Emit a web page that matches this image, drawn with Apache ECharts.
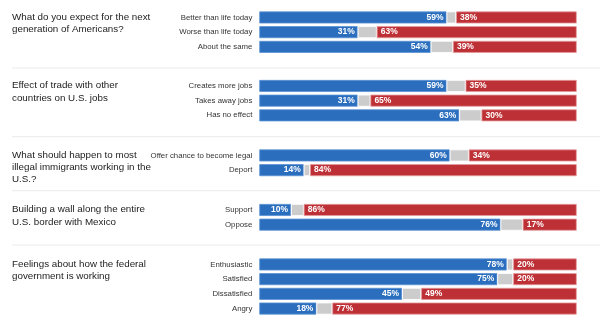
<!DOCTYPE html>
<html><head><meta charset="utf-8">
<script src="https://cdn.jsdelivr.net/npm/echarts@6/dist/echarts.min.js"></script>
<style>html,body{margin:0;padding:0;background:#fff}#c{width:600px;height:325px}</style>
</head><body><div id="c"></div>
<script>
// ---- data ----
const titles = [
  "What do you expect for the next\ngeneration of Americans?",
  "Effect of trade with other\ncountries on U.S. jobs",
  "What should happen to most\nillegal immigrants working in the\nU.S.?",
  "Building a wall along the entire\nU.S. border with Mexico",
  "Feelings about how the federal\ngovernment is working"
];
const cats1 = ["Better than life today", "Worse than life today", "About the same"];
const blue1 = [59, 31, 54];
const other1 = [3, 6, 7];
const red1 = [38, 63, 39];

const cats2 = ["Creates more jobs", "Takes away jobs", "Has no effect"];
const blue2 = [59, 31, 63];
const other2 = [6, 4, 7];
const red2 = [35, 65, 30];

const cats3 = ["Offer chance to become legal", "Deport"];
const blue3 = [60, 14];
const other3 = [6, 2];
const red3 = [34, 84];

const cats4 = ["Support", "Oppose"];
const blue4 = [10, 76];
const other4 = [4, 7];
const red4 = [86, 17];

const cats5 = ["Enthusiastic", "Satisfied", "Dissatisfied", "Angry"];
const blue5 = [78, 75, 45, 18];
const other5 = [2, 5, 6, 5];
const red5 = [20, 20, 49, 77];

// ---- layout ----
const groups = [
  {cats: cats1, blue: blue1, other: other1, red: red1, top: 10.1},
  {cats: cats2, blue: blue2, other: other2, red: red2, top: 78.6},
  {cats: cats3, blue: blue3, other: other3, red: red3, top: 148.1},
  {cats: cats4, blue: blue4, other: other4, red: red4, top: 202.6},
  {cats: cats5, blue: blue5, other: other5, red: red5, top: 257.1}
];
const PITCH = 14.7;
const separators = [68, 136.7, 190.7, 245];
const FONT = '"Liberation Sans", Arial, sans-serif';

const grids = [], xAxes = [], yAxes = [], series = [], graphics = [];
const lbl = {color: '#fff', fontSize: 8.5, fontWeight: 'bold', fontFamily: FONT, formatter: '{c}%'};
groups.forEach((g, i) => {
  grids.push({left: 259.3, width: 317.4, top: g.top, height: g.cats.length * PITCH});
  xAxes.push({gridIndex: i, type: 'value', min: 0, max: 100, show: false});
  yAxes.push({gridIndex: i, type: 'category', data: g.cats, inverse: true,
    axisLine: {show: false}, axisTick: {show: false}, splitLine: {show: false},
    axisLabel: {margin: 7, color: '#333', fontSize: 7.8, fontFamily: FONT}});
  const common = {type: 'bar', xAxisIndex: i, yAxisIndex: i, stack: 's' + i, barWidth: 12, animation: false};
  series.push(Object.assign({}, common, {name: 'Blue', data: g.blue,
    itemStyle: {color: '#2a6ebd', borderColor: '#5a92d4', borderWidth: 0.8},
    label: Object.assign({show: true, position: 'insideRight', distance: 3}, lbl)}));
  series.push(Object.assign({}, common, {name: 'Other', data: g.other,
    itemStyle: {color: '#cccccc', borderColor: '#ffffff', borderWidth: 0.8}}));
  series.push(Object.assign({}, common, {name: 'Red', data: g.red,
    itemStyle: {color: '#bd3035', borderColor: '#e49a9c', borderWidth: 0.8},
    label: Object.assign({show: true, position: 'insideLeft', distance: 4}, lbl)}));
  graphics.push({type: 'text', left: 12, top: g.top + PITCH / 2 - 6.5,
    style: {text: titles[i], fill: '#222', font: '9.8px ' + FONT, lineHeight: 12.3}});
});
separators.forEach(y => {
  graphics.push({type: 'line', shape: {x1: 12, y1: y, x2: 600, y2: y},
    style: {stroke: '#ebebeb', lineWidth: 1}});
});

const chart = echarts.init(document.getElementById('c'), null, {renderer: 'canvas'});
chart.setOption({
  animation: false,
  grid: grids, xAxis: xAxes, yAxis: yAxes, series: series, graphic: graphics
});
</script></body></html>
